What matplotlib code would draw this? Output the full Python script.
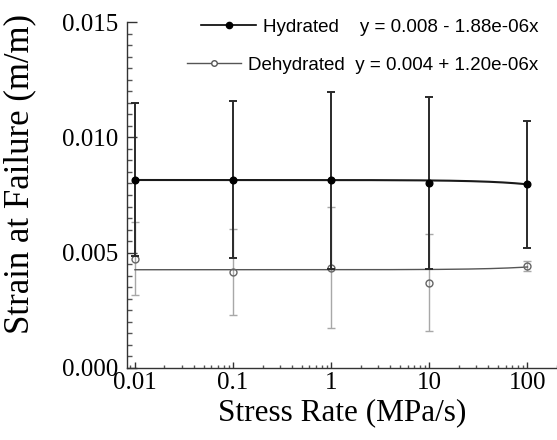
import numpy as np
import matplotlib
matplotlib.use("Agg")
import matplotlib.pyplot as plt
from matplotlib.lines import Line2D
from matplotlib.ticker import FixedLocator, FuncFormatter, LogLocator, MultipleLocator, NullFormatter

# ---- data ----
stress_rate = [0.01, 0.1, 1, 10, 100]
hyd_mean = [0.00817, 0.00817, 0.00813, 0.00802, 0.00796]
hyd_err = [0.00330, 0.00339, 0.00383, 0.00372, 0.00274]
deh_mean = [0.00474, 0.00417, 0.00435, 0.00370, 0.00443]
deh_err = [0.00157, 0.00187, 0.00261, 0.00209, 0.00022]

# linear fits (shown in legend)
hyd_fit = (0.00815, -1.88e-06)
deh_fit = (0.00426, 1.20e-06)
hyd_label = "Hydrated    y = 0.008 - 1.88e-06x"
deh_label = "Dehydrated  y = 0.004 + 1.20e-06x"

x_ticks = [0.01, 0.1, 1, 10, 100]
x_tick_labels = ["0.01", "0.1", "1", "10", "100"]
y_ticks = [0.0, 0.005, 0.010, 0.015]

serif = ["Liberation Serif", "DejaVu Serif"]
sans = ["Liberation Sans", "DejaVu Sans"]

fig = plt.figure(figsize=(5.57, 4.40), dpi=100)
ax = fig.add_axes([127 / 557, 1 - 368 / 440, 1 - 127 / 557, 346 / 440])

xs = np.logspace(np.log10(0.01), np.log10(100), 400)

# dehydrated
ax.errorbar(stress_rate, deh_mean, yerr=deh_err, fmt="none", ecolor="#a8a8a8",
            elinewidth=1.0, capsize=3, capthick=1.0, zorder=2)
ax.plot(xs, deh_fit[0] + deh_fit[1] * xs, color="#555555", lw=1.0, zorder=3)
ax.plot(stress_rate, deh_mean, "o", ms=5, mfc="none", mec="#666666", mew=1.0, zorder=4)

# hydrated
ax.errorbar(stress_rate, hyd_mean, yerr=hyd_err, fmt="none", ecolor="#2a2a2a",
            elinewidth=1.4, capsize=3, capthick=1.4, zorder=5)
ax.plot(xs, hyd_fit[0] + hyd_fit[1] * xs, color="#1a1a1a", lw=1.5, zorder=6)
ax.plot(stress_rate, hyd_mean, "o", ms=4.8, color="black", zorder=7)

ax.set_xscale("log")
ax.set_xlim(0.0083, 200)
ax.set_ylim(0, 0.015)

ax.xaxis.set_major_locator(FixedLocator(x_ticks))
ax.xaxis.set_major_formatter(FuncFormatter(lambda v, p: x_tick_labels[x_ticks.index(v)] if v in x_ticks else ""))
ax.xaxis.set_minor_locator(LogLocator(base=10, subs=np.arange(2, 10)))
ax.xaxis.set_minor_formatter(NullFormatter())
ax.yaxis.set_major_locator(FixedLocator(y_ticks))
ax.yaxis.set_major_formatter(FuncFormatter(lambda v, p: f"{v:.3f}"))
ax.yaxis.set_minor_locator(MultipleLocator(0.0005))

for s in ["top", "right"]:
    ax.spines[s].set_visible(False)
for s in ["left", "bottom"]:
    ax.spines[s].set_color("#333333")
    ax.spines[s].set_linewidth(1.0)

ax.tick_params(axis="y", which="major", direction="in", length=7, width=1, color="#333333", pad=6)
ax.tick_params(axis="y", which="minor", direction="in", length=3.5, width=1, color="#555555")
ax.tick_params(axis="x", which="major", direction="in", length=4.5, width=1, color="#333333", pad=3)
ax.tick_params(axis="x", which="minor", direction="in", length=2.5, width=1, color="#555555")

for lab in ax.get_xticklabels() + ax.get_yticklabels():
    lab.set_fontfamily(serif)
    lab.set_fontsize(18)

ax.set_xlabel("Stress Rate (MPa/s)", fontfamily=serif, fontsize=22.5, labelpad=3)
ax.set_ylabel("Strain at Failure (m/m)", fontfamily=serif, fontsize=25)
ax.yaxis.set_label_coords(-0.21, 0.56)

# legends (two, both right aligned)
h1 = Line2D([], [], color="black", lw=1.2, marker="o", ms=4.5)
h2 = Line2D([], [], color="#555555", lw=1.0, marker="o", ms=4, mfc="white", mec="#555555")
leg1 = ax.legend([h1], [hyd_label], loc="upper right", bbox_to_anchor=(0.975, 1.032),
                 frameon=False, prop={"family": sans, "size": 13.5},
                 handlelength=2.9, handletextpad=0.4, borderaxespad=0)
ax.add_artist(leg1)
leg2 = ax.legend([h2], [deh_label], loc="upper right", bbox_to_anchor=(0.975, 0.922),
                 frameon=False, prop={"family": sans, "size": 13.5},
                 handlelength=2.9, handletextpad=0.4, borderaxespad=0)

fig.savefig("out.png", dpi=100)
